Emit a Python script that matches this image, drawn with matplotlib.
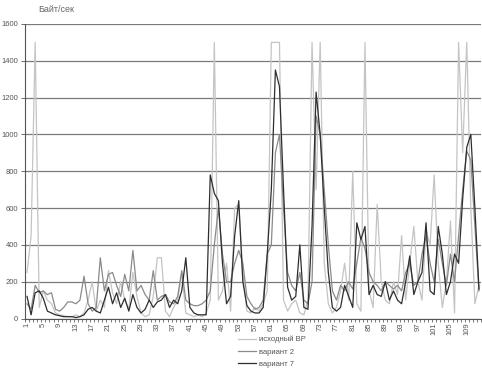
import numpy as np
import matplotlib
matplotlib.use("Agg")
import matplotlib.pyplot as plt

plt.rcParams['font.family'] = ['Liberation Sans', 'DejaVu Sans']

# исходный ВР
src = [250, 450, 1500, 60, 150, 100, 80, 30, 20, 15, 10, 10, 20, 10, 30, 100, 200, 40, 100,
       60, 260, 140, 80, 200, 100, 50, 250, 120, 30, 10, 20, 120, 330, 330, 40, 10, 60, 100, 250, 30, 20, 10, 20, 10, 30,
       100, 1500, 100, 150, 300, 40, 600, 620, 250, 40, 30, 60,
       40, 80, 150, 1500, 1500, 1500, 100, 40, 80, 100, 30, 20, 100, 1500, 700, 1500, 300, 80, 30, 60,
       150, 300, 100, 800, 80, 40, 1500, 150, 60, 620, 200, 100, 80, 200, 130, 450, 100, 300, 500, 200,
       100, 480, 400, 780, 300, 60, 200, 530, 30, 1500, 900, 1500, 600, 80, 180]
# вариант 2
var2 = [80, 50, 180, 140, 150, 130, 140, 50, 40, 60, 90, 90, 80, 100, 230, 80, 40, 60, 330,
        150, 240, 250, 180, 120, 240, 150, 370, 150, 180, 130, 100, 260, 100, 120, 130, 90, 80, 120, 260, 100, 80, 70, 70, 80, 100,
        150, 400, 600, 350, 200, 200, 300, 370, 300, 120, 80, 50,
        60, 100, 350, 400, 900, 1000, 600, 250, 180, 150, 250, 100, 80, 200, 1100, 1000, 700, 400, 150, 100,
        180, 150, 200, 160, 300, 440, 380, 250, 200, 180, 150, 200, 180, 160, 180, 150, 250, 300, 180, 200,
        350, 450, 300, 200, 430, 300, 180, 350, 200, 450, 700, 910, 860, 500, 150]
# вариант 7
var7 = [120, 20, 140, 150, 110, 40, 30, 20, 15, 10, 10, 10, 5, 10, 20, 50, 60, 40, 30,
        100, 170, 80, 140, 60, 110, 40, 130, 60, 30, 50, 100, 60, 90, 100, 130, 60, 100, 80, 150, 330, 60, 30, 20, 20, 20,
        780, 680, 640, 300, 80, 120, 450, 640, 200, 70, 40, 30,
        30, 60, 350, 700, 1350, 1260, 700, 170, 100, 120, 400, 60, 50, 500, 1230, 1000, 600, 250, 60, 40,
        60, 180, 120, 60, 520, 430, 500, 130, 180, 130, 120, 200, 100, 150, 100, 80, 200, 340, 130, 200,
        250, 520, 150, 130, 500, 350, 130, 200, 350, 300, 650, 930, 1000, 600, 160]

labels = ["исходный ВР", "вариант 2", "вариант 7"]
colors = ["#c4c4c4", "#8a8a8a", "#2e2e2e"]

n = len(src)
x = np.arange(1, n + 1)

fig = plt.figure(figsize=(4.82, 3.70), dpi=100)
ax = fig.add_axes([25 / 482, 1 - 318.5 / 370, 456 / 482, 294.5 / 370])

for series, lab, col in zip([src, var2, var7], labels, colors):
    ax.plot(x, series, color=col, lw=0.9, label=lab)

ax.set_xlim(0.5, n + 0.5)
ax.set_ylim(0, 1600)
ax.set_yticks(np.arange(0, 1601, 200))
ax.yaxis.grid(True, color="#7a7a7a", lw=0.9)
ax.set_axisbelow(True)

ax.set_xticks(np.arange(1, n + 1, 4))
ax.set_xticklabels([str(v) for v in range(1, n + 1, 4)], rotation=90)
ax.set_xticks(np.arange(0.5, n + 1, 1), minor=True)
ax.tick_params(axis="x", which="major", length=0, labelsize=5.5, colors="#555555", pad=3)
ax.tick_params(axis="x", which="minor", length=2.5, width=0.6, color="#666666")
ax.tick_params(axis="y", length=3, width=0.6, labelsize=5.5, colors="#555555", pad=2)

for s in ["top", "right"]:
    ax.spines[s].set_visible(False)
ax.spines["left"].set_color("#555555")
ax.spines["bottom"].set_color("#555555")
ax.spines["left"].set_linewidth(0.8)
ax.spines["bottom"].set_linewidth(0.8)

fig.text(38 / 482, 1 - 10 / 370, "Байт/сек", fontsize=6.5, color="#666666", va="center")

fig.legend(loc="upper left", bbox_to_anchor=(238 / 482, 1 - 336 / 370), frameon=False,
           fontsize=5.5, handlelength=2.3, labelspacing=0.62, handletextpad=0.4,
           borderpad=0.0, borderaxespad=0.0, labelcolor="#555555")

fig.savefig("out.png", dpi=100)
